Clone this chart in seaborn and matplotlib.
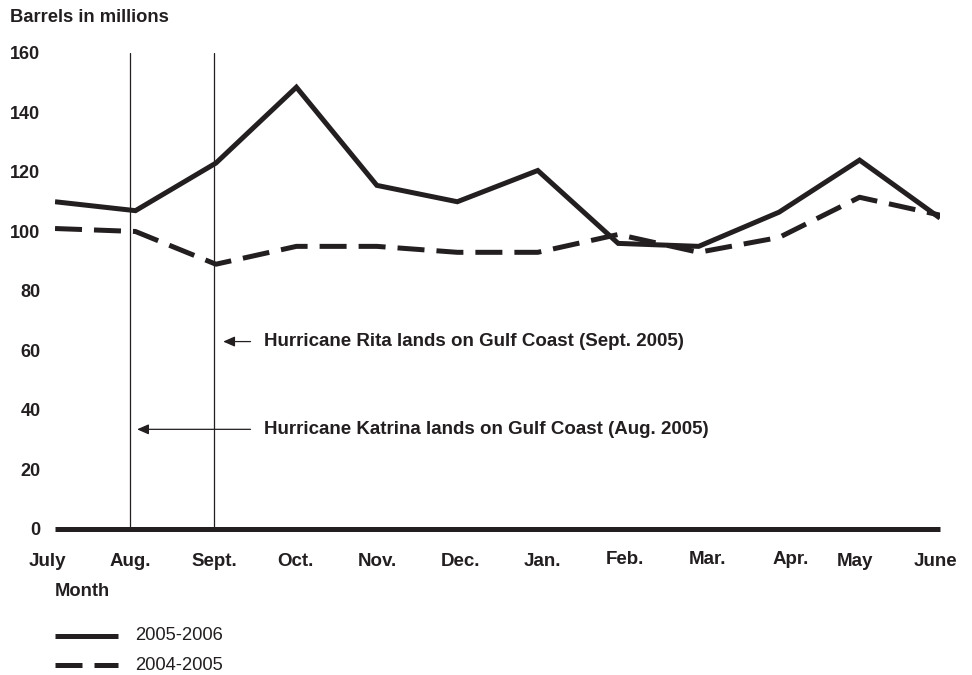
import pandas as pd
import numpy as np
import matplotlib
matplotlib.use("Agg")
import matplotlib.pyplot as plt
import matplotlib.transforms as mtransforms
import seaborn as sns

# Monthly values, barrels in millions
months = ["July", "Aug.", "Sept.", "Oct.", "Nov.", "Dec.", "Jan.", "Feb.", "Mar.", "Apr.", "May", "June"]
barrels_2005_2006 = [110, 107, 123, 148.5, 115.5, 110, 120.5, 96, 95, 106.5, 124, 104.5]
barrels_2004_2005 = [101, 100, 89, 95, 95, 93, 93, 99, 93, 98, 111.5, 105.5]
series_names = ["2005-2006", "2004-2005"]
y_ticks = [0, 20, 40, 60, 80, 100, 120, 140, 160]

sns.set_theme(style="white")
plt.rcParams["font.family"] = ["Liberation Sans", "DejaVu Sans"]
ink = "#231f20"

df = pd.DataFrame({
    "pos": list(range(len(months))) * 2,
    "barrels": barrels_2005_2006 + barrels_2004_2005,
    "season": [series_names[0]] * len(months) + [series_names[1]] * len(months),
})

fig = plt.figure(figsize=(9.72, 6.75), dpi=100)
ax = fig.add_axes([0.0566, 0.2163, 0.9105, 0.7052])

sns.lineplot(data=df, x="pos", y="barrels", style="season", style_order=series_names,
             dashes={series_names[0]: "", series_names[1]: (5.4, 2.4)},
             color=ink, linewidth=3.6, legend=False, ax=ax)
for ln in ax.get_lines():
    ln.set_solid_capstyle("butt")
    ln.set_dash_capstyle("butt")
    ln.set_solid_joinstyle("miter")

ax.set_xlim(0, 11)
ax.set_ylim(0, 160)
ax.set_xticks(range(len(months)))
ax.set_xticklabels(months, fontsize=13.5, fontweight="bold", color=ink)
ax.set_yticks(y_ticks)
ax.set_yticklabels([str(t) for t in y_ticks], fontsize=13, fontweight="bold", color=ink)
ax.tick_params(axis="x", length=0, pad=17)
ax.tick_params(axis="y", length=0, pad=10.5)
ax.set_xlabel("")
ax.set_ylabel("")

# month labels in the original sit a little off their points
label_dx = [-8, -5, -2, -1, 1, 3, 5, 7, 9, 12, -5, -5]
label_dy = [0, 0, 0, 0, 0, 0, 0, 2, 2, 2, 0, 0]
for lab, dx, dy in zip(ax.get_xticklabels(), label_dx, label_dy):
    lab.set_transform(lab.get_transform() +
                      mtransforms.ScaledTranslation(dx / 100, dy / 100, fig.dpi_scale_trans))

for s in ["top", "right", "left"]:
    ax.spines[s].set_visible(False)
ax.spines["bottom"].set_linewidth(3.6)
ax.spines["bottom"].set_color(ink)
ax.spines["bottom"].set_capstyle("butt")

# hurricane landfall markers
ax.axvline(0.93, color=ink, linewidth=0.9)
ax.axvline(1.98, color=ink, linewidth=0.9)

arrow_style = dict(arrowstyle="-|>,head_length=0.5,head_width=0.22", color=ink, lw=0.9,
                   mutation_scale=14, shrinkA=0, shrinkB=0)
ax.annotate("", xy=(2.09, 63), xytext=(2.43, 63), arrowprops=arrow_style)
ax.text(2.6, 63, "Hurricane Rita lands on Gulf Coast (Sept. 2005)", fontsize=13.5,
        fontweight="bold", va="center", color=ink)
ax.annotate("", xy=(1.02, 33.5), xytext=(2.43, 33.5), arrowprops=arrow_style)
ax.text(2.6, 33.5, "Hurricane Katrina lands on Gulf Coast (Aug. 2005)", fontsize=13.5,
        fontweight="bold", va="center", color=ink)

fig.text(10 / 972, 1 - 17 / 675, "Barrels in millions", fontsize=13.2, fontweight="bold",
         va="center", color=ink)
fig.text(55 / 972, 1 - 591 / 675, "Month", fontsize=13.2, fontweight="bold",
         va="center", color=ink)

# legend drawn by hand
for i, (name, dash) in enumerate(zip(series_names, ["-", (0, (5.4, 2.4))])):
    y = 1 - (636 + 29 * i) / 675
    fig.add_artist(plt.Line2D([55 / 972, 118 / 972], [y, y], color=ink,
                              linewidth=3.6, linestyle=dash, solid_capstyle="butt",
                              dash_capstyle="butt", transform=fig.transFigure))
    fig.text(135 / 972, y, name, fontsize=13.2, va="center", color=ink)

fig.savefig("out.png", dpi=100)
